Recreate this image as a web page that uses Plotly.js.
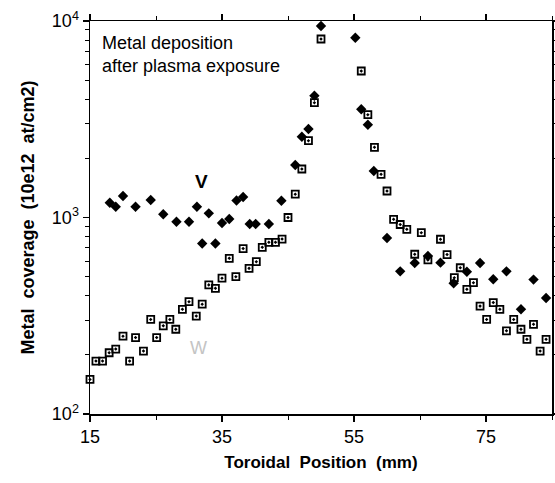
<!DOCTYPE html>
<html>
<head>
<meta charset="utf-8">
<script src="https://cdn.plot.ly/plotly-3.0.1.min.js"></script>
<style>html,body{margin:0;padding:0;background:#fff;}#chart{width:555px;height:483px;}</style>
</head>
<body>
<div id="chart"></div>
<script>
// W (open squares) – toroidal position (mm) and coverage (10e12 at/cm2)
const wPos = [15.0,15.9,16.9,17.9,18.9,20.0,21.0,21.9,23.1,24.2,25.1,26.1,27.1,28.0,29.0,30.0,31.1,32.0,33.0,34.0,35.0,36.1,37.1,38.2,39.1,40.2,41.1,42.1,43.1,44.1,45.0,46.1,47.1,48.1,49.0,50.0,56.1,57.1,58.1,59.1,60.0,61.0,62.0,63.0,64.2,65.2,66.2,68.1,69.1,70.2,71.1,72.1,73.1,74.1,75.1,76.1,77.1,78.1,79.2,80.3,81.2,82.2,83.2,84.1];
const wVal = [150,186,186,205,214,249,186,245,209,303,245,281,303,270,341,373,315,362,454,436,491,620,500,695,551,596,705,748,748,777,1000,1314,1765,2459,3839,8098,5566,3337,2276,1659,1364,979,921,871,650,837,608,775,648,494,555,431,466,354,303,369,341,265,303,270,240,286,209,240];
// V (filled diamonds)
const vPos = [18.0,18.9,20.0,21.9,24.2,26.1,28.1,30.0,31.2,32.0,33.0,34.0,35.0,36.1,37.2,38.2,39.2,40.1,42.1,44.0,46.1,47.1,48.1,49.0,50.0,55.2,56.1,57.1,58.0,60.0,62.0,64.2,66.2,68.1,70.1,72.1,74.1,76.1,78.1,80.3,82.2,84.1];
const vVal = [1189,1135,1286,1135,1228,1038,952,952,1135,738,1050,738,938,983,1221,1272,927,927,927,1216,1850,2578,2820,4167,9431,8222,3553,2967,1724,787,532,587,637,589,463,530,587,485,532,341,483,389];

const xTicks = [15,35,55,75];
const xTickText = ['15','35','55','75'];
const xMinor = [25,45,65,85];
const yTicks = [100,1000,10000];
const yTickText = ['10<sup>2</sup>','10<sup>3</sup>','10<sup>4</sup>'];
const yMinor = [200,300,400,500,600,700,800,900,2000,3000,4000,5000,6000,7000,8000,9000];

const FONT = 'Liberation Sans, Arial, Helvetica, sans-serif';
const SP = '\u00a0\u00a0';

const traces = [
  {x: wPos, y: wVal, type:'scatter', mode:'markers', name:'W', cliponaxis:false,
   marker:{symbol:'square-open-dot', size:7, color:'#000', line:{width:1.8, color:'#000'}}},
  {x: vPos, y: vVal, type:'scatter', mode:'markers', name:'V', cliponaxis:false,
   marker:{symbol:'diamond', size:8, color:'#000', line:{width:0}}}
];

const layout = {
  width:555, height:483,
  margin:{l:90, r:3, t:21, b:69, pad:0},
  paper_bgcolor:'#fff', plot_bgcolor:'#fff',
  showlegend:false,
  font:{family:FONT, color:'#000', size:18},
  xaxis:{
    type:'linear', range:[15,85], autorange:false,
    tickmode:'array', tickvals:xTicks, ticktext:xTickText,
    ticks:'outside', ticklen:6, tickwidth:1.2, tickcolor:'#000',
    minor:{tickmode:'array', tickvals:xMinor, ticks:'outside', ticklen:4, tickwidth:1, tickcolor:'#000'},
    showline:true, linecolor:'#000', linewidth:1.5, mirror:'allticks',
    showgrid:false, zeroline:false,
    tickfont:{size:18, family:FONT},
    title:{text:'<b>Toroidal' + SP + 'Position' + SP + '(mm)</b>', font:{size:17, family:FONT}, standoff:10},
    automargin:false
  },
  yaxis:{
    type:'log', range:[2,4], autorange:false,
    tickmode:'array', tickvals:yTicks, ticktext:yTickText,
    ticks:'outside', ticklen:6, tickwidth:1.2, tickcolor:'#000',
    minor:{tickmode:'array', tickvals:yMinor, ticks:'outside', ticklen:4, tickwidth:1, tickcolor:'#000'},
    showline:true, linecolor:'#000', linewidth:1.5, mirror:'allticks',
    showgrid:false, zeroline:false,
    tickfont:{size:18, family:FONT},
    title:{text:'<b>Metal' + SP + 'coverage' + SP + '(10e12' + SP + 'at/cm2)</b>', font:{size:18, family:FONT}, standoff:12},
    automargin:false
  },
  annotations:[
    {xref:'x', yref:'paper', x:16.5, y:0.975, xanchor:'left', yanchor:'top', align:'left', showarrow:false,
     text:'Metal deposition<br>after plasma exposure', font:{size:18, family:FONT, color:'#000'}},
    {xref:'x', yref:'y', x:31.9, y:3.182, showarrow:false, text:'<b>V</b>', font:{size:19, family:FONT, color:'#000'}},
    {xref:'x', yref:'y', x:31.4, y:2.336, showarrow:false, text:'W', font:{size:18, family:FONT, color:'#c4c4c4'}}
  ]
};

Plotly.newPlot('chart', traces, layout, {displayModeBar:false, staticPlot:true});
</script>
</body>
</html>
